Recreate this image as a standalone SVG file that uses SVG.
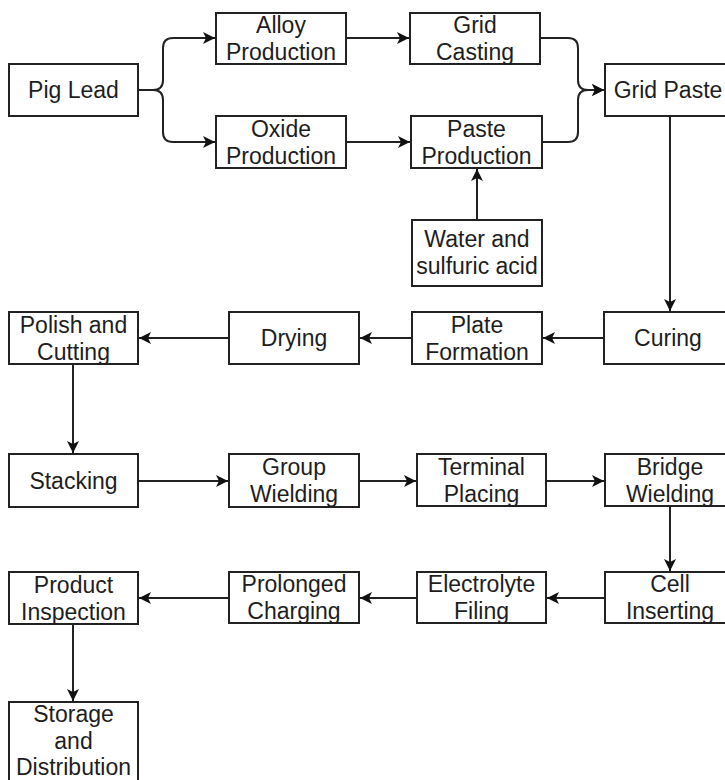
<svg xmlns="http://www.w3.org/2000/svg" width="725" height="780" viewBox="0 0 725 780">
<style>
.b rect{fill:#fff;stroke:#222;stroke-width:2}
.b text{font-family:"Liberation Sans",Arial,sans-serif;font-size:23px;fill:#1e1e1e;text-anchor:middle}
.c path{fill:none;stroke:#222;stroke-width:2;marker-end:url(#a)}
</style>
<defs>
<marker id="a" markerUnits="userSpaceOnUse" markerWidth="14" markerHeight="12" refX="12" refY="6" orient="auto">
<path d="M0,0 L12,6 L0,12 L3,6 Z" fill="#111"/>
</marker>
</defs>
<rect width="725" height="780" fill="#fff"/>
<g class="c" id="connectors">
<path d="M138,90 L153,90 Q163,90 163,80 L163,48 Q163,38 173,38 L215,38"/>
<path d="M138,90 L153,90 Q163,90 163,100 L163,132 Q163,142 173,142 L215,142"/>
<path d="M346,38 L409,38"/>
<path d="M346,142 L410,142"/>
<path d="M540,38 L568,38 Q578,38 578,48 L578,80 Q578,90 588,90 L604,90"/>
<path d="M542,142 L568,142 Q578,142 578,132 L578,100 Q578,90 588,90 L604,90"/>
<path d="M477,220 L477,169"/>
<path d="M670,116 L670,311"/>
<path d="M604,338 L543,338"/>
<path d="M412,338 L360,338"/>
<path d="M229,338 L139,338"/>
<path d="M73,364 L73,453"/>
<path d="M138,481 L228,481"/>
<path d="M359,481 L416,481"/>
<path d="M546,481 L604,481"/>
<path d="M670,506 L670,571"/>
<path d="M605,598 L547,598"/>
<path d="M417,598 L360,598"/>
<path d="M229,598 L139,598"/>
<path d="M73,624 L73,701"/>
</g>
<g class="b" id="pig-lead"><rect x="9" y="64" width="129" height="52"/><text x="73.5" y="98">Pig Lead</text></g>
<g class="b" id="alloy-production"><rect x="216" y="13" width="130" height="51"/><text x="281" y="33">Alloy</text><text x="281" y="60">Production</text></g>
<g class="b" id="oxide-production"><rect x="216" y="116" width="130" height="52"/><text x="281" y="136.5">Oxide</text><text x="281" y="163.5">Production</text></g>
<g class="b" id="grid-casting"><rect x="410" y="13" width="130" height="51"/><text x="475" y="33">Grid</text><text x="475" y="60">Casting</text></g>
<g class="b" id="paste-production"><rect x="411" y="116" width="131" height="52"/><text x="476.5" y="136.5">Paste</text><text x="476.5" y="163.5">Production</text></g>
<g class="b" id="grid-paste"><rect x="605" y="64" width="131" height="52"/><text x="668" y="98">Grid Paste</text></g>
<g class="b" id="water-sulfuric"><rect x="412" y="220" width="130" height="66"/><text x="477" y="247">Water and</text><text x="477" y="274">sulfuric acid</text></g>
<g class="b" id="curing"><rect x="604" y="312" width="132" height="52"/><text x="668" y="346">Curing</text></g>
<g class="b" id="plate-formation"><rect x="412" y="312" width="130" height="52"/><text x="477" y="332.5">Plate</text><text x="477" y="359.5">Formation</text></g>
<g class="b" id="drying"><rect x="229" y="312" width="130" height="52"/><text x="294" y="346">Drying</text></g>
<g class="b" id="polish-cutting"><rect x="9" y="312" width="129" height="52"/><text x="73.5" y="332.5">Polish and</text><text x="73.5" y="359.5">Cutting</text></g>
<g class="b" id="stacking"><rect x="9" y="454" width="129" height="53"/><text x="73.5" y="489">Stacking</text></g>
<g class="b" id="group-wielding"><rect x="229" y="454" width="130" height="53"/><text x="294" y="474.5">Group</text><text x="294" y="501.5">Wielding</text></g>
<g class="b" id="terminal-placing"><rect x="417" y="454" width="129" height="52"/><text x="481.5" y="474.5">Terminal</text><text x="481.5" y="501.5">Placing</text></g>
<g class="b" id="bridge-wielding"><rect x="605" y="454" width="131" height="52"/><text x="670" y="474.5">Bridge</text><text x="670" y="501.5">Wielding</text></g>
<g class="b" id="cell-inserting"><rect x="605" y="572" width="131" height="51"/><text x="670" y="592">Cell</text><text x="670" y="619">Inserting</text></g>
<g class="b" id="electrolyte-filing"><rect x="417" y="572" width="129" height="51"/><text x="481.5" y="592">Electrolyte</text><text x="481.5" y="619">Filing</text></g>
<g class="b" id="prolonged-charging"><rect x="229" y="572" width="130" height="51"/><text x="294" y="592">Prolonged</text><text x="294" y="619">Charging</text></g>
<g class="b" id="product-inspection"><rect x="9" y="572" width="129" height="52"/><text x="73.5" y="592.5">Product</text><text x="73.5" y="619.5">Inspection</text></g>
<g class="b" id="storage-distribution"><rect x="9" y="702" width="129" height="82"/><text x="73.5" y="722">Storage</text><text x="73.5" y="749">and</text><text x="73.5" y="775">Distribution</text></g>
</svg>
